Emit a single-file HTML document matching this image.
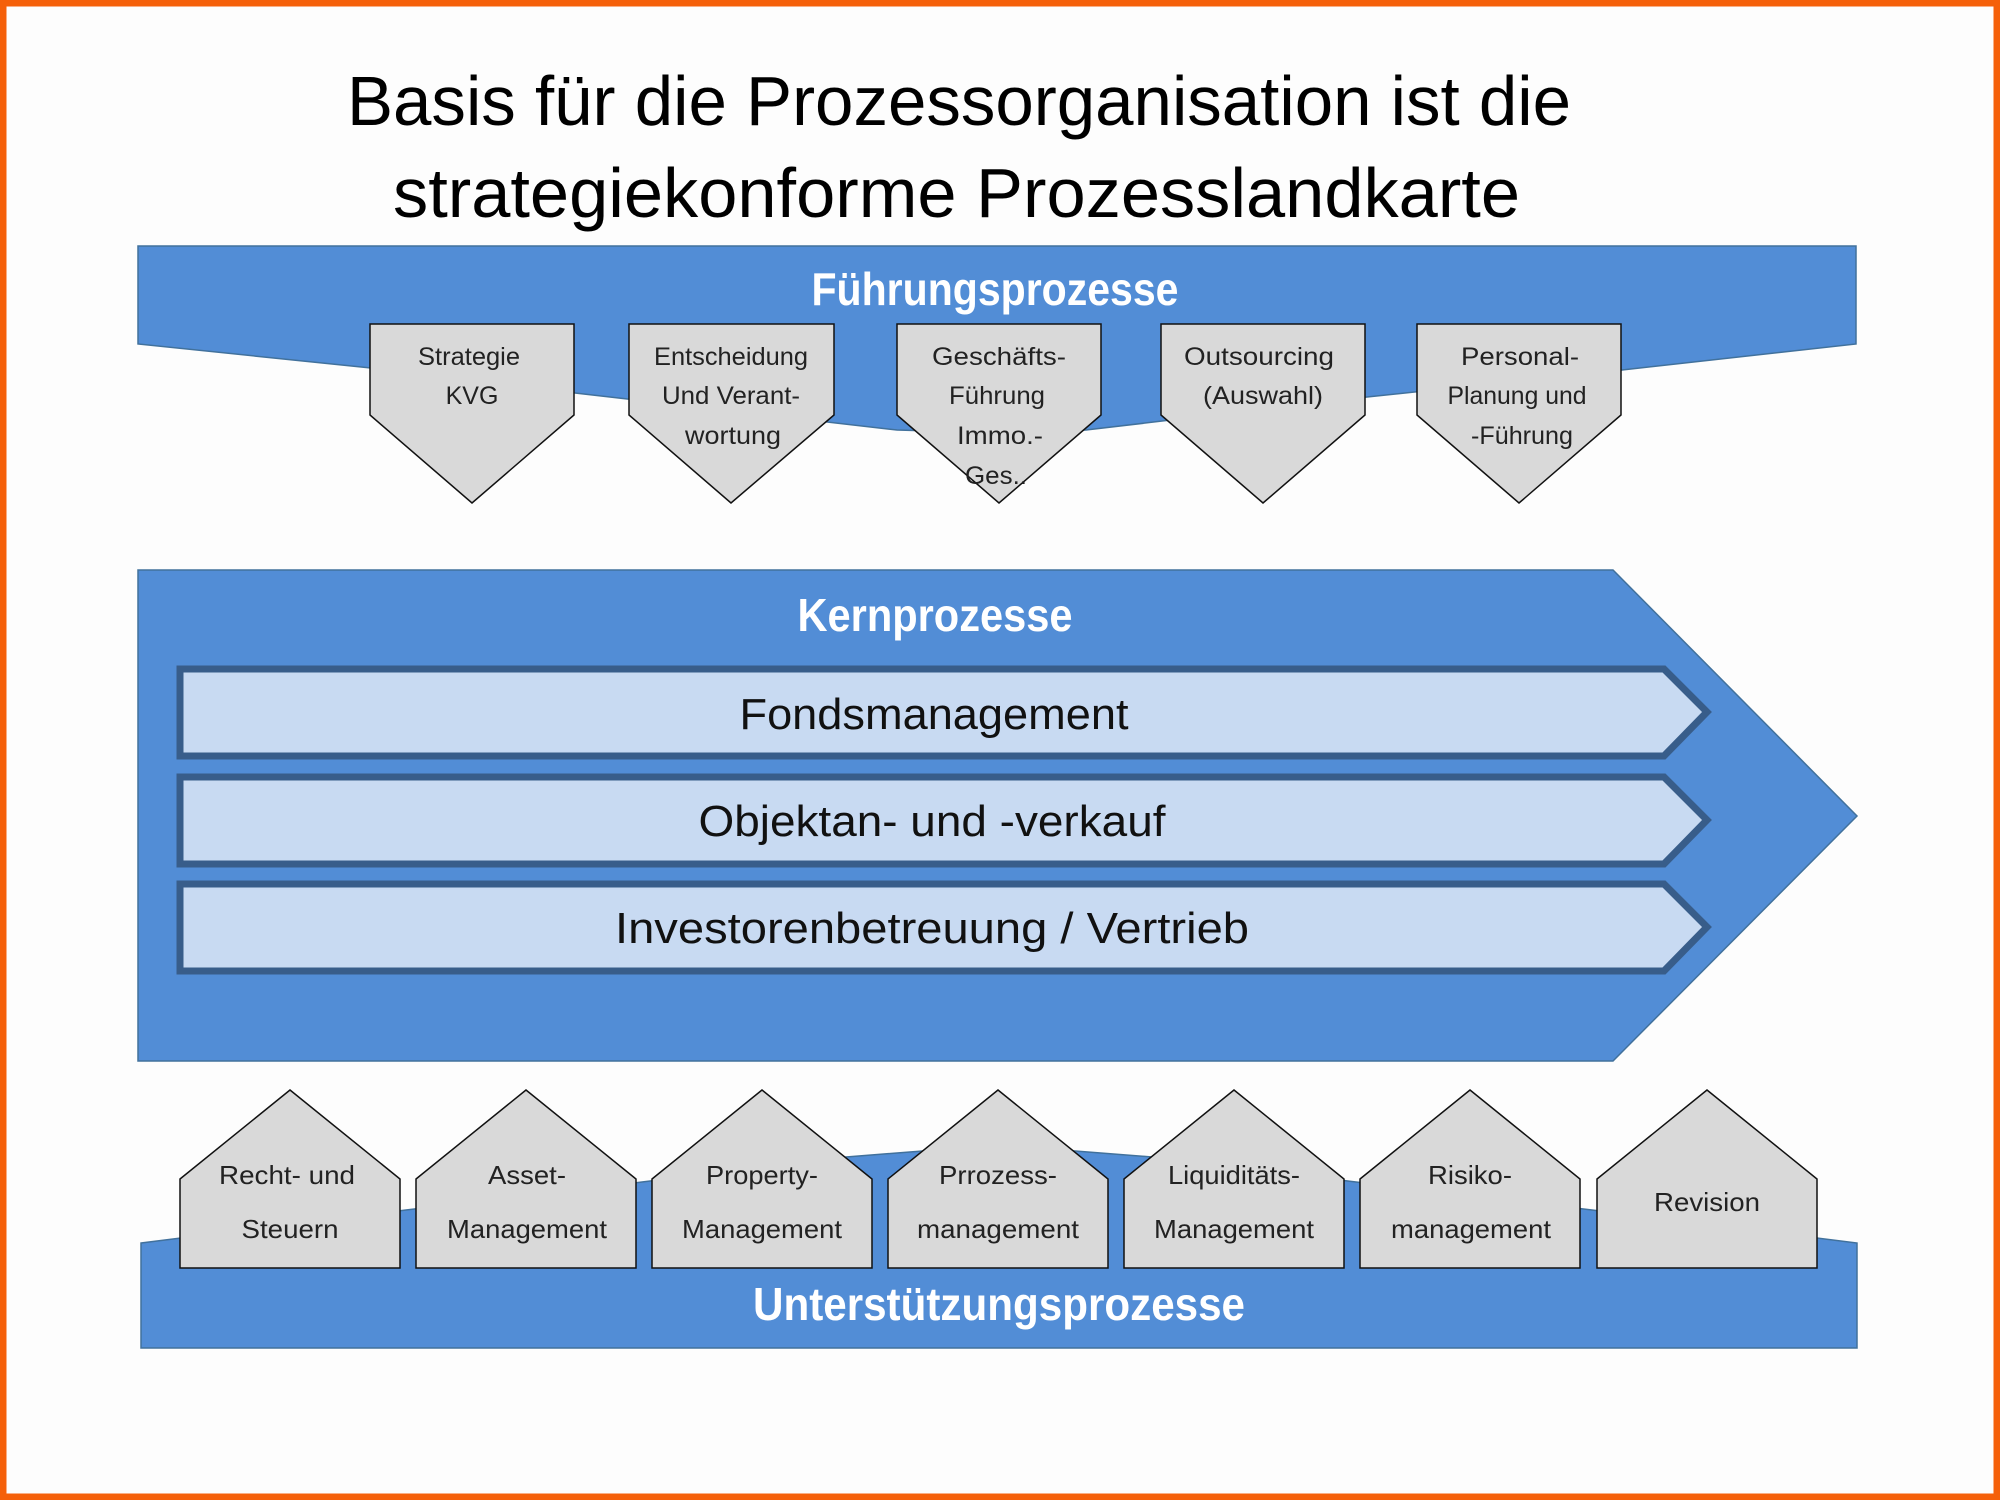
<!DOCTYPE html>
<html><head><meta charset="utf-8"><style>
html,body{margin:0;padding:0;background:#fdfdfd;}
svg{display:block;}
</style></head><body>
<svg width="2000" height="1500" viewBox="0 0 2000 1500" xmlns="http://www.w3.org/2000/svg">
<rect x="0" y="0" width="2000" height="1500" fill="#fdfdfd"/>
<rect x="3" y="3" width="1994" height="1494" fill="none" stroke="#f5600a" stroke-width="7"/>

<g font-family="'Liberation Sans', sans-serif" fill="#000">
<text x="347" y="125" font-size="70" textLength="1224" lengthAdjust="spacingAndGlyphs">Basis für die Prozessorganisation ist die</text>
<text x="393" y="217" font-size="70" textLength="1127" lengthAdjust="spacingAndGlyphs">strategiekonforme Prozesslandkarte</text>
</g>

<!-- Top band -->
<path d="M138,246 L1856,246 L1856,344 L1622,370 L1367,397 L1086,430 L1000,433 L897,430 L575,393 L371,368 L138,344 Z" fill="#528dd6" stroke="#41719c" stroke-width="1.5"/>
<text x="995" y="305" font-family="'Liberation Sans', sans-serif" font-weight="bold" font-size="46" fill="#fff" text-anchor="middle" textLength="367" lengthAdjust="spacingAndGlyphs">Führungsprozesse</text>

<g fill="#d9d9d9" stroke="#111" stroke-width="1.5">
<polygon points="370,324 574,324 574,415 472,503 370,415"/>
<polygon points="629,324 834,324 834,415 731,503 629,415"/>
<polygon points="897,324 1101,324 1101,415 999,503 897,415"/>
<polygon points="1161,324 1365,324 1365,415 1263,503 1161,415"/>
<polygon points="1417,324 1621,324 1621,415 1519,503 1417,415"/>
</g>
<g font-family="'Liberation Sans', sans-serif" font-size="25" fill="#222" text-anchor="middle">
<text x="469" y="365" textLength="102" lengthAdjust="spacingAndGlyphs">Strategie</text>
<text x="472" y="404">KVG</text>
<text x="731" y="365" textLength="154" lengthAdjust="spacingAndGlyphs">Entscheidung</text>
<text x="731" y="404" textLength="138" lengthAdjust="spacingAndGlyphs">Und Verant-</text>
<text x="733" y="444" textLength="96" lengthAdjust="spacingAndGlyphs">wortung</text>
<text x="999" y="365" textLength="134" lengthAdjust="spacingAndGlyphs">Geschäfts-</text>
<text x="997" y="404" textLength="96" lengthAdjust="spacingAndGlyphs">Führung</text>
<text x="1000" y="444" textLength="86" lengthAdjust="spacingAndGlyphs">Immo.-</text>
<text x="996" y="484" textLength="62" lengthAdjust="spacingAndGlyphs">Ges..</text>
<text x="1259" y="365" textLength="150" lengthAdjust="spacingAndGlyphs">Outsourcing</text>
<text x="1263" y="404" textLength="120" lengthAdjust="spacingAndGlyphs">(Auswahl)</text>
<text x="1520" y="365" textLength="118" lengthAdjust="spacingAndGlyphs">Personal-</text>
<text x="1517" y="404" textLength="139" lengthAdjust="spacingAndGlyphs">Planung und</text>
<text x="1522" y="444" textLength="102" lengthAdjust="spacingAndGlyphs">-Führung</text>
</g>

<!-- Kern arrow -->
<polygon points="138,570 1613,570 1857,816 1613,1061 138,1061" fill="#528dd6" stroke="#41719c" stroke-width="1.5"/>
<text x="935" y="631" font-family="'Liberation Sans', sans-serif" font-weight="bold" font-size="46" fill="#fff" text-anchor="middle" textLength="275" lengthAdjust="spacingAndGlyphs">Kernprozesse</text>

<g fill="#c8daf2" stroke="#385d8a" stroke-width="7" stroke-linejoin="miter">
<polygon points="180,669 1664,669 1707,712 1664,756 180,756"/>
<polygon points="180,777 1664,777 1707,820 1664,864 180,864"/>
<polygon points="180,884 1664,884 1707,927 1664,971 180,971"/>
</g>
<g font-family="'Liberation Sans', sans-serif" font-size="44" fill="#111" text-anchor="middle">
<text x="934" y="729" textLength="389" lengthAdjust="spacingAndGlyphs">Fondsmanagement</text>
<text x="932" y="836" textLength="467" lengthAdjust="spacingAndGlyphs">Objektan- und -verkauf</text>
<text x="932" y="943" textLength="634" lengthAdjust="spacingAndGlyphs">Investorenbetreuung / Vertrieb</text>
</g>

<!-- Bottom band -->
<path d="M141,1243 L406,1210 L642,1182 L846,1157 L999,1145 L1152,1157 L1356,1182 L1592,1210 L1857,1243 L1857,1348 L141,1348 Z" fill="#528dd6" stroke="#41719c" stroke-width="1.5"/>
<text x="999" y="1320" font-family="'Liberation Sans', sans-serif" font-weight="bold" font-size="46" fill="#fff" text-anchor="middle" textLength="492" lengthAdjust="spacingAndGlyphs">Unterstützungsprozesse</text>

<g fill="#d9d9d9" stroke="#111" stroke-width="1.5">
<polygon points="180,1179 290,1090 400,1179 400,1268 180,1268"/>
<polygon points="416,1179 526,1090 636,1179 636,1268 416,1268"/>
<polygon points="652,1179 762,1090 872,1179 872,1268 652,1268"/>
<polygon points="888,1179 998,1090 1108,1179 1108,1268 888,1268"/>
<polygon points="1124,1179 1234,1090 1344,1179 1344,1268 1124,1268"/>
<polygon points="1360,1179 1470,1090 1580,1179 1580,1268 1360,1268"/>
<polygon points="1597,1179 1707,1090 1817,1179 1817,1268 1597,1268"/>
</g>
<g font-family="'Liberation Sans', sans-serif" font-size="26" fill="#222" text-anchor="middle">
<text x="287" y="1184" textLength="136" lengthAdjust="spacingAndGlyphs">Recht- und</text>
<text x="290" y="1238" textLength="97" lengthAdjust="spacingAndGlyphs">Steuern</text>
<text x="527" y="1184" textLength="78" lengthAdjust="spacingAndGlyphs">Asset-</text>
<text x="527" y="1238" textLength="160" lengthAdjust="spacingAndGlyphs">Management</text>
<text x="762" y="1184" textLength="112" lengthAdjust="spacingAndGlyphs">Property-</text>
<text x="762" y="1238" textLength="160" lengthAdjust="spacingAndGlyphs">Management</text>
<text x="998" y="1184" textLength="118" lengthAdjust="spacingAndGlyphs">Prrozess-</text>
<text x="998" y="1238" textLength="162" lengthAdjust="spacingAndGlyphs">management</text>
<text x="1234" y="1184" textLength="132" lengthAdjust="spacingAndGlyphs">Liquiditäts-</text>
<text x="1234" y="1238" textLength="160" lengthAdjust="spacingAndGlyphs">Management</text>
<text x="1470" y="1184" textLength="84" lengthAdjust="spacingAndGlyphs">Risiko-</text>
<text x="1471" y="1238" textLength="160" lengthAdjust="spacingAndGlyphs">management</text>
<text x="1707" y="1211" textLength="106" lengthAdjust="spacingAndGlyphs">Revision</text>
</g>
</svg>
</body></html>
